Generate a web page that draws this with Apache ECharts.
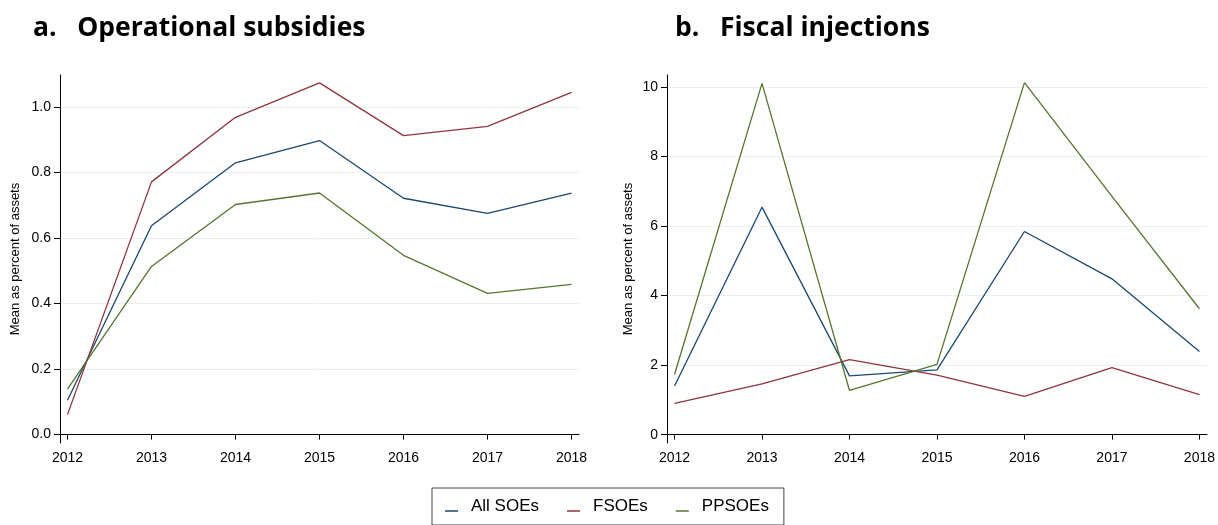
<!DOCTYPE html>
<html>
<head>
<meta charset="utf-8">
<script src="https://cdn.jsdelivr.net/npm/echarts@6/dist/echarts.min.js"></script>
<style>
  html, body { margin: 0; padding: 0; background: #ffffff; }
  #chart { width: 1218px; height: 525px; }
</style>
</head>
<body>
<div id="chart"></div>
<script>
// Years on the horizontal axis of both panels
const years = [2012, 2013, 2014, 2015, 2016, 2017, 2018];
const groupNames = ['All SOEs', 'FSOEs', 'PPSOEs'];

// Panel a: operational subsidies, mean as percent of assets
const opsAll = [0.105, 0.637, 0.829, 0.897, 0.721, 0.675, 0.737];
const opsF   = [0.061, 0.771, 0.968, 1.073, 0.912, 0.940, 1.044];
const opsPP  = [0.139, 0.513, 0.702, 0.737, 0.547, 0.431, 0.458];

// Panel b: fiscal injections, mean as percent of assets
const injAll = [1.40, 6.54, 1.69, 1.86, 5.84, 4.48, 2.39];
const injF   = [0.90, 1.46, 2.16, 1.71, 1.10, 1.93, 1.15];
const injPP  = [1.73, 10.10, 1.27, 2.02, 10.12, 6.85, 3.62];

// Tick labels
const opsTicks = [0, 0.2, 0.4, 0.6, 0.8, 1.0];
const injTicks = [0, 2, 4, 6, 8, 10];

const panelTitles = ['a.   Operational subsidies', 'b.   Fiscal injections'];
const yTitle = 'Mean as percent of assets';

const colors = ['#1a476f', '#90353b', '#55752f'];
const gridColor = '#e8f0f2';
const axisColor = '#000000';
const tickFont = { fontFamily: 'Liberation Sans', fontSize: 14, color: '#000' };

function pairs(values) {
  return years.map((y, i) => [y, values[i]]);
}

function xAxisFor(gridIndex, pad) {
  return {
    type: 'value',
    gridIndex: gridIndex,
    min: years[0] - pad,
    max: years[years.length - 1] + pad,
    axisLine: { show: true, lineStyle: { color: axisColor, width: 1 } },
    axisTick: { show: true, customValues: years, length: 5, lineStyle: { color: axisColor } },
    axisLabel: Object.assign({ customValues: years, margin: 8, formatter: v => String(v) }, tickFont),
    splitLine: { show: false }
  };
}

function yAxisFor(gridIndex, min, max, ticks, fmt, nameGap) {
  return {
    type: 'value',
    gridIndex: gridIndex,
    min: min,
    max: max,
    name: yTitle,
    nameLocation: 'middle',
    nameRotate: 90,
    nameGap: nameGap,
    nameTextStyle: { fontFamily: 'Liberation Sans', fontSize: 13, color: '#000' },
    axisLine: { show: true, lineStyle: { color: axisColor, width: 1 } },
    axisTick: { show: true, customValues: ticks, length: 6, lineStyle: { color: axisColor } },
    axisLabel: Object.assign({ customValues: ticks, margin: 9, formatter: fmt }, tickFont),
    splitLine: { show: true, lineStyle: { color: gridColor, width: 1 } }
  };
}

function lineSeries(name, values, idx, color) {
  return {
    name: name,
    type: 'line',
    xAxisIndex: idx,
    yAxisIndex: idx,
    data: pairs(values),
    symbol: 'none',
    showSymbol: false,
    color: color,
    lineStyle: { color: color, width: 1.3 },
    z: 3
  };
}

const titleFont = { fontFamily: 'Open Sans', fontWeight: 'bold', fontSize: 26.5, color: '#000' };

const option = {
  animation: false,
  backgroundColor: '#ffffff',
  title: [
    { text: panelTitles[0], left: 33, top: 15, padding: 0, textStyle: titleFont },
    { text: panelTitles[1], left: 675, top: 15, padding: 0, textStyle: titleFont }
  ],
  grid: [
    { left: 60, top: 75, width: 519, height: 368 },
    { left: 667, top: 75, width: 540, height: 368 }
  ],
  xAxis: [xAxisFor(0, 0.089), xAxisFor(1, 0.086)],
  yAxis: [
    yAxisFor(0, -0.0256, 1.097, opsTicks, v => v.toFixed(1), 38),
    yAxisFor(1, -0.24, 10.34, injTicks, v => String(v), 32)
  ],
  legend: {
    data: groupNames,
    left: 432,
    top: 488,
    orient: 'horizontal',
    backgroundColor: '#ffffff',
    borderColor: '#444444',
    borderWidth: 1,
    borderRadius: 0,
    padding: [10, 15, 10, 13],
    itemGap: 28,
    itemWidth: 13,
    itemHeight: 10.5,
    icon: 'path://M0,0L13,0Z M0,9L13,9L13,10.5L0,10.5Z',
    itemStyle: { borderWidth: 0 },
    textStyle: { fontFamily: 'Liberation Sans', fontSize: 17, color: '#000', padding: [0, 0, 0, 8] }
  },
  series: [
    lineSeries(groupNames[0], opsAll, 0, colors[0]),
    lineSeries(groupNames[1], opsF, 0, colors[1]),
    lineSeries(groupNames[2], opsPP, 0, colors[2]),
    lineSeries(groupNames[0], injAll, 1, colors[0]),
    lineSeries(groupNames[1], injF, 1, colors[1]),
    lineSeries(groupNames[2], injPP, 1, colors[2])
  ]
};

const chart = echarts.init(document.getElementById('chart'), null, { renderer: 'canvas' });
chart.setOption(option);
</script>
</body>
</html>
